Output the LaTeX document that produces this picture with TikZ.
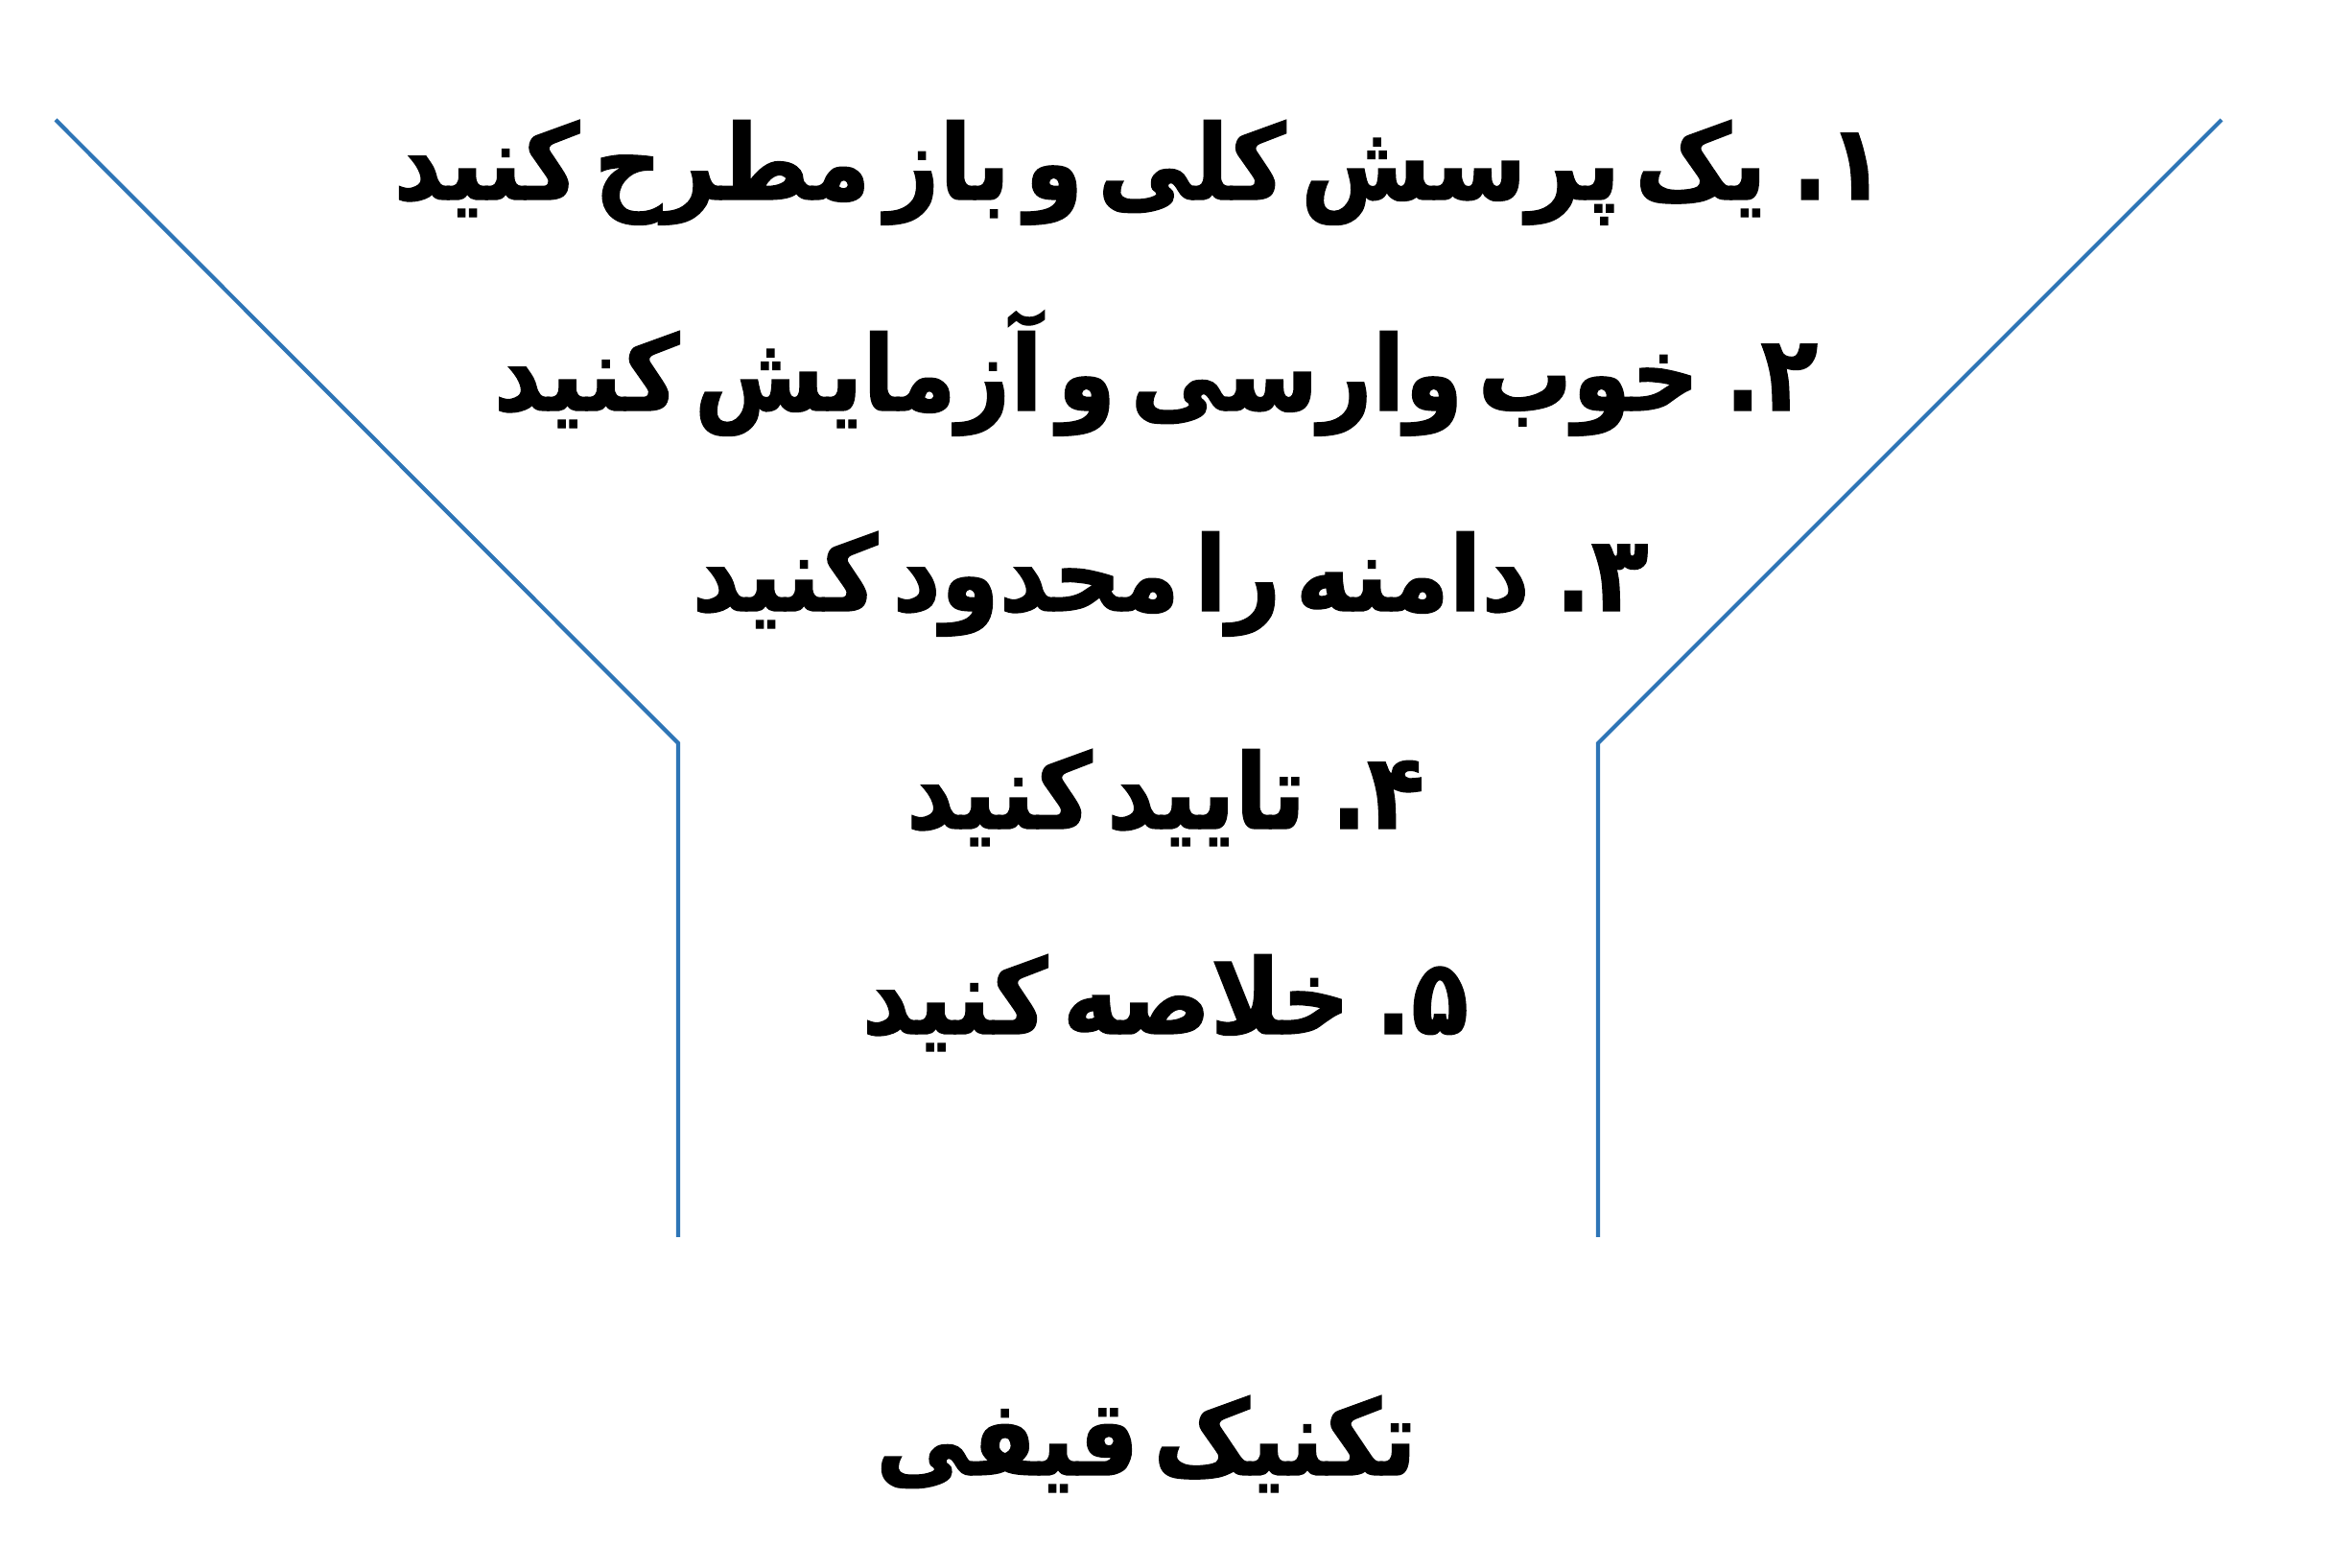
\documentclass[tikz,border=0pt]{standalone}
\usepackage{fontspec}
\newfontfamily\arabicfont[Script=Arabic, FakeStretch=0.9, WordSpace=0.45, BoldFeatures={FakeBold=1.2}]{DejaVu Sans}
\TeXXeTstate=1
\usepackage{tikz}
\usetikzlibrary{positioning}
\definecolor{funnelblue}{RGB}{46,117,182}

\begin{document}
\begin{tikzpicture}[
    item/.style={anchor=base, inner sep=0pt, font=\arabicfont\bfseries\fontsize{31}{37}\selectfont},
    funnel/.style={draw=funnelblue, line width=1.2pt}]
\useasboundingbox (0,0) rectangle (24.27,16.35);
%\fill[white] (0,0) rectangle (24.27,16.35);
\begin{scope}
    \coordinate (tl) at (0.58,15.10);
    \coordinate (ml) at (7.07,8.60);
    \coordinate (bl) at (7.07,3.45);
    \coordinate (tr) at (23.16,15.10);
    \coordinate (mr) at (16.66,8.60);
    \coordinate (br) at (16.66,3.45);

    \draw[funnel] (tl) -- (ml) -- (bl);
    \draw[funnel] (tr) -- (mr) -- (br);
\end{scope}
\node[item] (a) at (11.88,14.27) {\beginR ۱. یک پرسش کلی و باز مطرح کنید\endR};
\node[item] (b) at (12.05,12.07) {\beginR ۲. خوب وارسی و آزمایش کنید\endR};
\node[item] (c) at (12.20,9.98) {\beginR ۳. دامنه را محدود کنید\endR};
\node[item] (d) at (12.15,7.71) {\beginR ۴. تایید کنید\endR};
\node[item] (e) at (12.15,5.57) {\beginR ۵. خلاصه کنید\endR};
\node[item] (t) at (11.95,0.97) {\beginR تکنیک قیفی\endR};
\end{tikzpicture}
\end{document}
